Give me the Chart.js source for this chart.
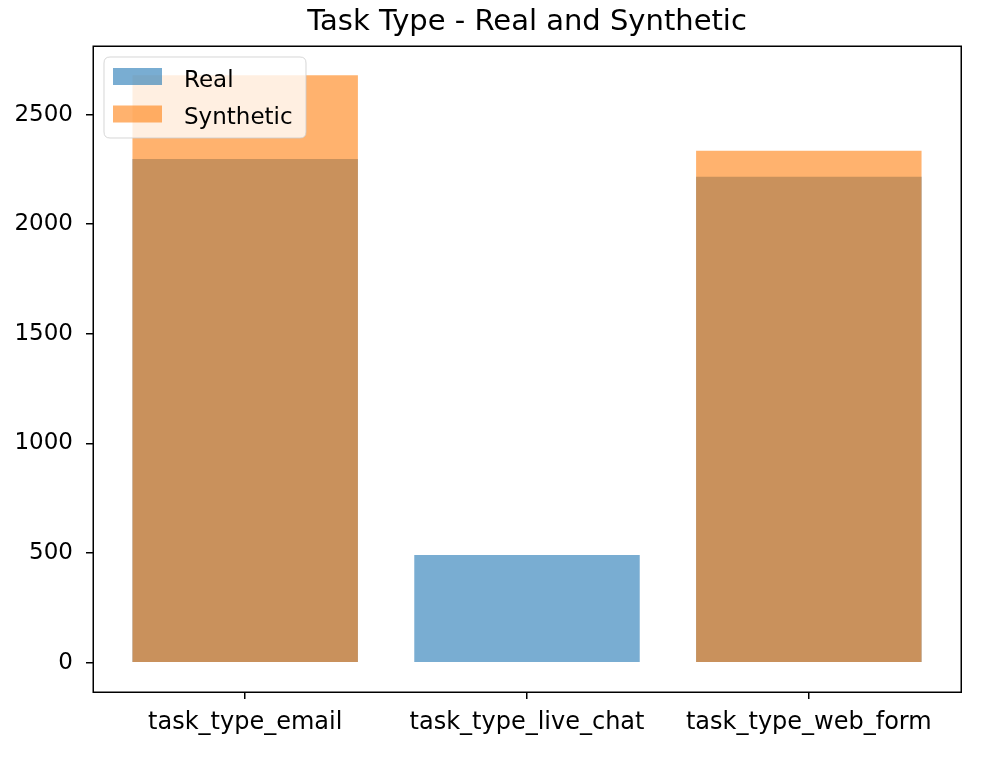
<!DOCTYPE html>
<html>
<head>
<meta charset="utf-8">
<script src="https://cdn.jsdelivr.net/npm/chart.js@4.4.0/dist/chart.umd.min.js"></script>
<style>
  html, body { margin: 0; padding: 0; background: #fff; }
  #wrap { width: 997px; height: 759px; position: relative; }
</style>
</head>
<body>
<div id="wrap"><canvas id="c" width="997" height="759"></canvas></div>
<script>
// ---- data ----
const categories = ["task_type_email", "task_type_live_chat", "task_type_web_form"];
const realValues = [2298, 491, 2217];
const syntheticValues = [2679, 0, 2335];
const yTickValues = [0, 500, 1000, 1500, 2000, 2500];
const seriesLabels = ["Real", "Synthetic"];
const chartTitle = "Task Type - Real and Synthetic";

const FONT = "'DejaVu Sans', sans-serif";
const allVals = realValues.concat(syntheticValues);
const dataMax = Math.max(...allVals);
const dataMin = Math.min(0, ...allVals);
const yPad = 0.05 * (dataMax - dataMin);
const xMinData = -0.4, xMaxData = categories.length - 1 + 0.4;
const xPad = 0.05 * (xMaxData - xMinData);

const frameLegendPlugin = {
  id: 'frameLegend',
  afterDraw(chart) {
    const ctx = chart.ctx;
    const a = chart.chartArea;
    ctx.save();
    // title centred over the axes
    ctx.fillStyle = '#000';
    ctx.font = '29px ' + FONT;
    ctx.textAlign = 'center';
    ctx.textBaseline = 'alphabetic';
    ctx.fillText(chartTitle, (a.left + a.right) / 2, 30);
    // axes frame
    ctx.strokeStyle = '#000';
    ctx.lineWidth = 1.5;
    ctx.strokeRect(Math.round(a.left) + 0.25, Math.round(a.top) + 0.25, Math.round(a.right - a.left), Math.round(a.bottom - a.top));
    // legend
    const lx = a.left + 11, ly = a.top + 11, lw = 202, lh = 81, r = 6;
    ctx.beginPath();
    ctx.moveTo(lx + r, ly);
    ctx.lineTo(lx + lw - r, ly);
    ctx.quadraticCurveTo(lx + lw, ly, lx + lw, ly + r);
    ctx.lineTo(lx + lw, ly + lh - r);
    ctx.quadraticCurveTo(lx + lw, ly + lh, lx + lw - r, ly + lh);
    ctx.lineTo(lx + r, ly + lh);
    ctx.quadraticCurveTo(lx, ly + lh, lx, ly + lh - r);
    ctx.lineTo(lx, ly + r);
    ctx.quadraticCurveTo(lx, ly, lx + r, ly);
    ctx.closePath();
    ctx.fillStyle = 'rgba(255,255,255,0.8)';
    ctx.fill();
    ctx.strokeStyle = 'rgba(204,204,204,0.8)';
    ctx.lineWidth = 1;
    ctx.stroke();
    ctx.font = '23px ' + FONT;
    ctx.textBaseline = 'alphabetic';
    ctx.textAlign = 'left';
    chart.data.datasets.forEach((ds, i) => {
      const ry = ly + 11 + i * 37.5;
      ctx.fillStyle = ds.backgroundColor;
      ctx.fillRect(lx + 9, ry, 49, 17);
      ctx.fillStyle = '#000';
      ctx.fillText(ds.label, lx + 80, ry + 18.5);
    });
    ctx.restore();
  }
};

const chart = new Chart(document.getElementById('c'), {
  type: 'bar',
  data: {
    datasets: [
      {
        label: seriesLabels[0],
        data: realValues.map((v, i) => ({ x: i, y: v })),
        backgroundColor: 'rgba(31,119,180,0.6)',
        borderWidth: 0,
        order: 1
      },
      {
        label: seriesLabels[1],
        data: syntheticValues.map((v, i) => ({ x: i, y: v })),
        backgroundColor: 'rgba(255,127,14,0.6)',
        borderWidth: 0,
        order: 0
      }
    ]
  },
  options: {
    responsive: false,
    animation: false,
    grouped: false,
    barPercentage: 0.8,
    categoryPercentage: 1.0,
    layout: { padding: { left: 0, right: 36, top: 46, bottom: 0 } },
    plugins: {
      legend: { display: false },
      tooltip: { enabled: false },
      title: { display: false }
    },
    scales: {
      x: {
        type: 'linear',
        offset: false,
        min: xMinData - xPad,
        max: xMaxData + xPad,
        afterBuildTicks: s => { s.ticks = categories.map((c, i) => ({ value: i })); },
        afterFit: s => { s.height = 67; },
        ticks: {
          callback: v => categories[v],
          color: '#000',
          font: { family: FONT, size: 24 },
          padding: 9,
          maxRotation: 0,
          autoSkip: false
        },
        grid: { offset: false, drawOnChartArea: false, drawTicks: true, tickLength: 7, color: '#000', lineWidth: 1.5 },
        border: { display: false }
      },
      y: {
        min: dataMin - yPad,
        max: dataMax + yPad,
        afterBuildTicks: s => { s.ticks = yTickValues.map(v => ({ value: v })); },
        afterFit: s => { s.width = 93; },
        ticks: {
          callback: v => String(v),
          color: '#000',
          font: { family: FONT, size: 23 },
          padding: 13
        },
        grid: { drawOnChartArea: false, drawTicks: true, tickLength: 7, color: '#000', lineWidth: 1.5 },
        border: { display: false }
      }
    }
  },
  plugins: [frameLegendPlugin]
});
</script>
</body>
</html>
